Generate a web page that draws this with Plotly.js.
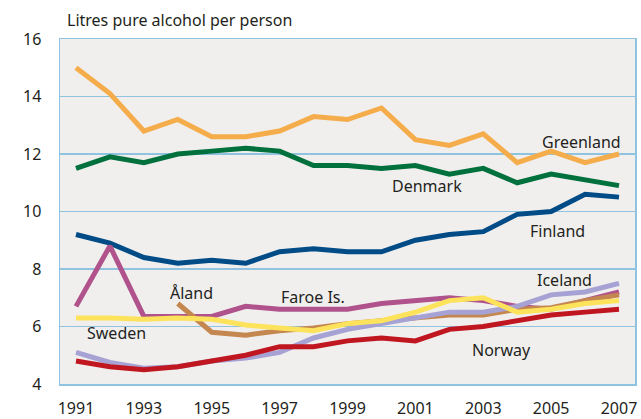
<!DOCTYPE html>
<html>
<head>
<meta charset="utf-8">
<script src="https://cdn.plot.ly/plotly-3.0.1.min.js"></script>
<style>html,body{margin:0;padding:0;background:#fff;}#chart{width:641px;height:419px;}</style>
</head>
<body>
<div id="chart"></div>
<script>
const years = [1991,1992,1993,1994,1995,1996,1997,1998,1999,2000,2001,2002,2003,2004,2005,2006,2007];
const greenland = [15.0,14.1,12.8,13.2,12.6,12.6,12.8,13.3,13.2,13.6,12.5,12.3,12.7,11.7,12.1,11.7,12.0];
const denmark   = [11.5,11.9,11.7,12.0,12.1,12.2,12.1,11.6,11.6,11.5,11.6,11.3,11.5,11.0,11.3,11.1,10.9];
const finland   = [9.2,8.9,8.4,8.2,8.3,8.2,8.6,8.7,8.6,8.6,9.0,9.2,9.3,9.9,10.0,10.6,10.5];
const faroe     = [6.7,8.8,6.35,6.35,6.35,6.7,6.6,6.6,6.6,6.8,6.9,7.0,6.9,6.7,6.6,6.9,7.2];
const aland     = [null,null,null,6.8,5.8,5.7,5.85,5.95,6.1,6.2,6.3,6.4,6.4,6.6,6.65,6.9,7.1];
const iceland   = [5.1,4.75,4.55,4.6,4.8,4.9,5.1,5.6,5.9,6.1,6.3,6.5,6.5,6.7,7.1,7.2,7.5];
const norway    = [4.8,4.6,4.5,4.6,4.8,5.0,5.3,5.3,5.5,5.6,5.5,5.9,6.0,6.2,6.4,6.5,6.6];
const sweden    = [6.3,6.3,6.25,6.3,6.25,6.05,5.95,5.85,6.1,6.2,6.5,6.9,7.0,6.5,6.6,6.8,6.9];

const yTicks = [4,6,8,10,12,14,16];
const xTicks = [1991,1993,1995,1997,1999,2001,2003,2005,2007];

const seriesNames = ['Greenland','Denmark','Finland','Faroe Is.','Åland','Iceland','Norway','Sweden'];
const seriesValues = [greenland, denmark, finland, faroe, aland, iceland, norway, sweden];
const seriesColors = ['#f5ad4b','#00703c','#014b86','#b0528c','#c4874f','#a6a2d4','#c0161f','#fde35c'];

// label positions (data coords)
const labelX = [2005.9, 2001.35, 2005.2, 1997.97, 1994.4, 2005.4, 2003.55, 1992.2];
const labelY = [12.41, 10.88, 9.32, 7.03, 7.17, 7.62, 5.2, 5.79];

const FONT = '"Noto Sans", "Open Sans", sans-serif';
const TXT = '#231f20';

const traces = seriesNames.map((n, i) => ({
  type: 'scatter', mode: 'lines', name: n,
  x: years, y: seriesValues[i],
  line: {color: seriesColors[i], width: 5, shape: 'linear'},
  connectgaps: false, hoverinfo: 'skip'
}));

const annotations = seriesNames.map((n, i) => ({
  x: labelX[i], y: labelY[i], xref: 'x', yref: 'y',
  text: n, showarrow: false, xanchor: 'center', yanchor: 'middle',
  font: {family: FONT, size: 16, color: TXT}
}));

const layout = {
  width: 641, height: 419,
  margin: {l: 60, r: 6, t: 39, b: 34.5, pad: 0},
  paper_bgcolor: '#ffffff',
  plot_bgcolor: '#f0efee',
  showlegend: false,
  title: {text: 'Litres pure alcohol per person', x: 67/641, xanchor: 'left', xref: 'container',
          y: 1 - 20/419, yanchor: 'middle', yref: 'container',
          font: {family: FONT, size: 16, color: TXT}},
  xaxis: {
    range: [1990.529, 2007.471], tickvals: xTicks, ticktext: xTicks.map(String),
    showgrid: false, zeroline: false, showline: true, linecolor: '#8fc3df', linewidth: 1.5, mirror: true,
    ticks: '', ticklabelstandoff: 9,
    tickfont: {family: FONT, size: 16, color: TXT}
  },
  yaxis: {
    range: [4, 16], tickvals: yTicks, ticktext: yTicks.map(String),
    showgrid: true, gridcolor: '#8fc3df', gridwidth: 1.2, zeroline: false,
    showline: true, linecolor: '#8fc3df', linewidth: 1.5, mirror: true,
    ticks: '', ticklabelstandoff: 14,
    tickfont: {family: FONT, size: 16, color: TXT}
  },
  annotations: annotations
};

Plotly.newPlot('chart', traces, layout, {displayModeBar: false, staticPlot: true});
</script>
</body>
</html>
